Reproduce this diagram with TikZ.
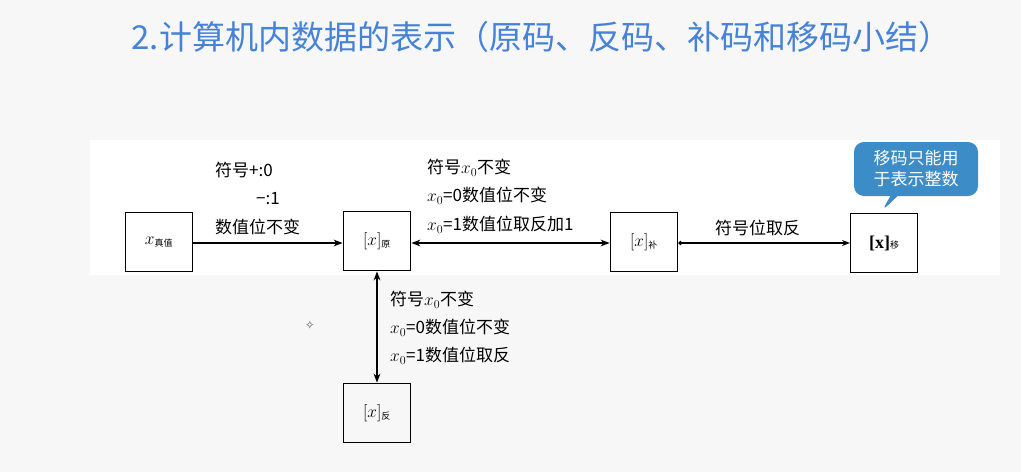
\documentclass[tikz,border=0pt]{standalone}
\usepackage{fontspec}
\setmainfont{Liberation Serif}
\newfontfamily\cjk{Noto Sans CJK SC}
\newfontfamily\djvu{DejaVu Sans}
\usetikzlibrary{arrows.meta,shapes.callouts}
\definecolor{ttl}{RGB}{70,130,215}
\definecolor{cal}{RGB}{60,140,200}
\begin{document}
\begin{tikzpicture}[x=1pt,y=-1pt,
  bx/.style={draw,line width=1.8pt,minimum width=67pt,minimum height=59pt,inner sep=0pt,font=\fontsize{18}{20}\selectfont},
  lb/.style={font=\cjk\fontsize{17}{19}\selectfont,anchor=west,inner sep=0pt},
  ar/.style={line width=1.5pt,-{Stealth[length=9pt]}},
  dar/.style={line width=1.5pt,{Stealth[length=9pt]}-{Stealth[length=9pt]}}]
\fill[gray!6] (0,0) rectangle (1021,472);
\fill[white] (90,140) rectangle (1000,275);
\useasboundingbox (0,0) rectangle (1021,472);
\node[font=\cjk\fontsize{33}{36}\selectfont,text=ttl,anchor=west] (t) at (128,37) {2.计算机内数据的表示（原码、反码、补码和移码小结）};
\node[bx] (a) at (159,242) {$x_{\hbox{\cjk\small 真值}}$};
\node[bx] (b) at (377,241) {$[x]_{\hbox{\cjk\small 原}}$};
\node[bx] (c) at (644,242) {$[x]_{\hbox{\cjk\small 补}}$};
\node[bx,line width=1pt] (d) at (884,243) {\textbf{[x]}{\cjk\small 移}};
\node[bx] (e) at (377,413) {$[x]_{\hbox{\cjk\small 反}}$};
\draw[ar] (a.east|-0,243) -- (b.west|-0,243);
\draw[dar] (b.east|-0,243) -- (c.west|-0,243);
\draw[line width=1.5pt,{Circle[length=4pt]}-{Stealth[length=8pt]}] (c.east|-0,243) -- (d.west|-0,243);
\draw[dar] (b.south) -- (e.north);
\node[lb] (l1) at (215,170) {符号+:0};
\node[lb] (l2) at (256,199) {−:1};
\node[lb] (l3) at (215,227) {数值位不变};
\node[lb] (r1) at (427,168) {符号$x_0$不变};
\node[lb] (r2) at (427,196) {$x_0$=0数值位不变};
\node[lb] (r3) at (427,225) {$x_0$=1数值位取反加1};
\node[lb] (s1) at (715,228) {符号位取反};
\node[lb] (v1) at (390,300) {符号$x_0$不变};
\node[lb] (v2) at (390,328) {$x_0$=0数值位不变};
\node[lb] (v3) at (390,356) {$x_0$=1数值位取反};
\node[font=\djvu\large,text=gray!70!black] (dm) at (310,325) {✧};
\node[rectangle callout,rounded corners=10pt,fill=cal,text=white,font=\cjk\fontsize{17}{21}\selectfont,
  align=center,minimum width=124pt,minimum height=54pt,inner sep=2pt,
  callout absolute pointer={(881,212)}] (k) at (916,169) {移码只能用\\于表示整数};
\end{tikzpicture}
\end{document}
